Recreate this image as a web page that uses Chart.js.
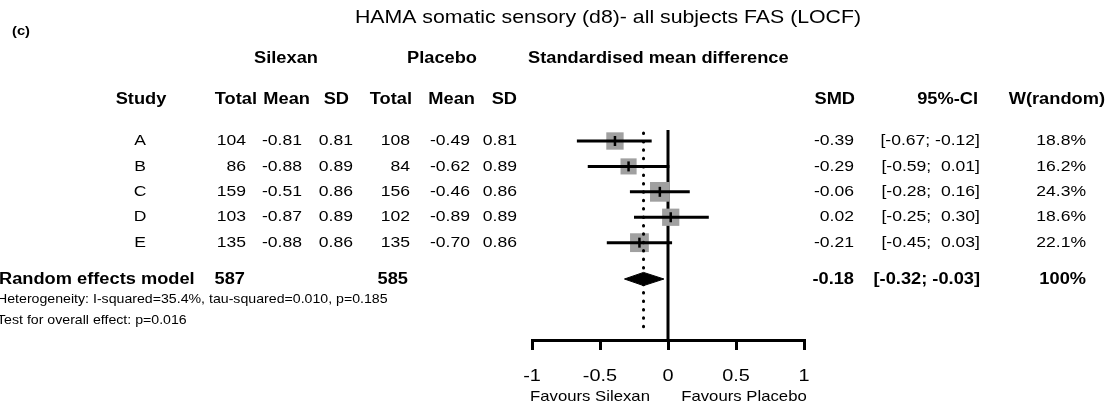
<!DOCTYPE html>
<html>
<head>
<meta charset="utf-8">
<script src="https://cdn.jsdelivr.net/npm/chart.js@4.4.1/dist/chart.umd.min.js"></script>
<style>
  html, body { margin: 0; padding: 0; background: #fff; }
  #wrap { width: 1110px; height: 408px; position: relative; }
</style>
</head>
<body>
<div id="wrap"><canvas id="forest"></canvas></div>
<script>
// data
const studies   = ['A', 'B', 'C', 'D', 'E'];
const silTotal  = [104, 86, 159, 103, 135];
const silMean   = [-0.81, -0.88, -0.51, -0.87, -0.88];
const silSD     = [0.81, 0.89, 0.86, 0.89, 0.86];
const plaTotal  = [108, 84, 156, 102, 135];
const plaMean   = [-0.49, -0.62, -0.46, -0.89, -0.70];
const plaSD     = [0.81, 0.89, 0.86, 0.89, 0.86];
const smd       = [-0.39, -0.29, -0.06, 0.02, -0.21];
const ciLow     = [-0.67, -0.59, -0.28, -0.25, -0.45];
const ciHigh    = [-0.12, 0.01, 0.16, 0.30, 0.03];
const weights   = [18.8, 16.2, 24.3, 18.6, 22.1];

const pooledTotals = [587, 585];
const pooledSmd  = -0.18;
const pooledLow  = -0.32;
const pooledHigh = -0.03;

const xTicks = [-1, -0.5, 0, 0.5, 1];

const heterogeneityText = 'Heterogeneity: I-squared=35.4%, tau-squared=0.010, p=0.185';
const overallText = 'Test for overall effect: p=0.016';

// row positions on the y scale
const SUMMARY_ROW = 6.43;
const Y_MIN = 0.567, Y_MAX = 8.83;
const SX = 1.17; // the figure's text is a bit wide, stretch it
const FONT = '"Liberation Sans", Arial, sans-serif';

function fmt(v) { return v.toFixed(2); }
function fmtCi(lo, hi) {
    const s = v => (v < 0 ? '' : ' ') + v.toFixed(2);
    return '[' + s(lo) + '; ' + s(hi) + ']';
}

function txt(ctx, s, x, y, align, size, bold) {
    ctx.save();
    ctx.font = (bold ? 'bold ' : '') + size + 'px ' + FONT;
    ctx.fillStyle = '#000';
    ctx.textAlign = align;
    ctx.textBaseline = 'middle';
    ctx.translate(x, y);
    ctx.scale(SX, 1);
    ctx.fillText(s, 0, 0);
    ctx.restore();
}

// the table columns around the plot
const tablePlugin = {
    id: 'tableText',
    afterDraw(chart) {
        const ctx = chart.ctx;
        const y = chart.scales.y;
        const x = chart.scales.x;

        txt(ctx, '(c)', 12, 32, 'left', 12.6, true);
        txt(ctx, 'HAMA somatic sensory (d8)- all subjects FAS (LOCF)', 608, 18, 'center', 18.2, false);

        // group headers
        txt(ctx, 'Silexan', 286, 59, 'center', 15.6, true);
        txt(ctx, 'Placebo', 442, 59, 'center', 15.6, true);
        txt(ctx, 'Standardised mean difference', 528, 59, 'left', 15.6, true);

        // column headers
        const hy = 100;
        txt(ctx, 'Study', 141, hy, 'center', 15.6, true);
        txt(ctx, 'Total', 257, hy, 'right', 15.6, true);
        txt(ctx, 'Mean', 310, hy, 'right', 15.6, true);
        txt(ctx, 'SD', 349, hy, 'right', 15.6, true);
        txt(ctx, 'Total', 412, hy, 'right', 15.6, true);
        txt(ctx, 'Mean', 475, hy, 'right', 15.6, true);
        txt(ctx, 'SD', 517, hy, 'right', 15.6, true);
        txt(ctx, 'SMD', 855, hy, 'right', 15.6, true);
        txt(ctx, '95%-CI', 978, hy, 'right', 15.6, true);
        txt(ctx, 'W(random)', 1105, hy, 'right', 15.6, true);

        // study rows
        studies.forEach((s, i) => {
            const py = y.getPixelForValue(i + 1);
            txt(ctx, s, 140, py, 'center', 15, false);
            txt(ctx, String(silTotal[i]), 246, py, 'right', 15, false);
            txt(ctx, fmt(silMean[i]), 302, py, 'right', 15, false);
            txt(ctx, fmt(silSD[i]), 353, py, 'right', 15, false);
            txt(ctx, String(plaTotal[i]), 410, py, 'right', 15, false);
            txt(ctx, fmt(plaMean[i]), 470, py, 'right', 15, false);
            txt(ctx, fmt(plaSD[i]), 517, py, 'right', 15, false);
            txt(ctx, fmt(smd[i]), 854, py, 'right', 15, false);
            txt(ctx, fmtCi(ciLow[i], ciHigh[i]), 980, py, 'right', 15, false);
            txt(ctx, weights[i].toFixed(1) + '%', 1086, py, 'right', 15, false);
        });

        // pooled row
        const sy = y.getPixelForValue(SUMMARY_ROW) + 1;
        txt(ctx, 'Random effects model', -1, sy, 'left', 15.6, true);
        txt(ctx, String(pooledTotals[0]), 245, sy, 'right', 15.6, true);
        txt(ctx, String(pooledTotals[1]), 408, sy, 'right', 15.6, true);
        txt(ctx, fmt(pooledSmd), 854, sy, 'right', 15.6, true);
        txt(ctx, fmtCi(pooledLow, pooledHigh), 980, sy, 'right', 15.6, true);
        txt(ctx, '100%', 1086, sy, 'right', 15.6, true);

        txt(ctx, heterogeneityText, -3, 300, 'left', 12.1, false);
        txt(ctx, overallText, -3, 321, 'left', 12.1, false);

        // tick labels under the axis
        x.ticks.forEach(t => {
            txt(ctx, String(t.value), x.getPixelForValue(t.value), 376, 'center', 17, false);
        });
        txt(ctx, 'Favours Silexan', 590, 397, 'center', 14.3, false);
        txt(ctx, 'Favours Placebo', 744, 397, 'center', 14.3, false);
    }
};

const datasets = [];

// gray squares, area by weight
datasets.push({
    data: studies.map((s, i) => ({ x: smd[i], y: i + 1 })),
    pointStyle: 'rect',
    pointRadius: weights.map(w => 4.0 * Math.sqrt(w) / Math.SQRT2),
    backgroundColor: '#a0a0a0',
    borderWidth: 0,
    order: 4
});

// confidence intervals
studies.forEach((s, i) => {
    datasets.push({
        data: [{ x: ciLow[i], y: i + 1 }, { x: ciHigh[i], y: i + 1 }],
        showLine: true,
        borderColor: '#000',
        borderWidth: 3,
        pointRadius: 0,
        order: 2
    });
});

// small vertical mark at each estimate
datasets.push({
    data: studies.map((s, i) => ({ x: smd[i], y: i + 1 })),
    pointStyle: 'line',
    rotation: 90,
    pointRadius: 5,
    borderColor: '#000',
    borderWidth: 2.5,
    order: 1
});

// pooled diamond
datasets.push({
    data: [
        { x: pooledLow, y: SUMMARY_ROW },
        { x: pooledSmd, y: SUMMARY_ROW - 0.26 },
        { x: pooledHigh, y: SUMMARY_ROW },
        { x: pooledSmd, y: SUMMARY_ROW + 0.26 },
        { x: pooledLow, y: SUMMARY_ROW }
    ],
    showLine: true,
    fill: 'shape',
    backgroundColor: '#000',
    borderColor: '#000',
    borderWidth: 1,
    pointRadius: 0,
    tension: 0,
    order: 3
});

// line of no effect
datasets.push({
    data: [{ x: 0, y: Y_MIN }, { x: 0, y: Y_MAX }],
    showLine: true,
    borderColor: '#000',
    borderWidth: 3,
    pointRadius: 0,
    order: 5
});

// dotted line at pooled estimate
datasets.push({
    data: [{ x: pooledSmd, y: 0.685 }, { x: pooledSmd, y: 8.52 }],
    showLine: true,
    borderColor: '#000',
    borderWidth: 3,
    borderDash: [0.5, 7.9],
    borderCapStyle: 'round',
    pointRadius: 0,
    order: 0
});

new Chart(document.getElementById('forest'), {
    type: 'scatter',
    data: { datasets: datasets },
    options: {
        responsive: true,
        maintainAspectRatio: false,
        animation: false,
        events: [],
        layout: { padding: { left: 532, right: 306, top: 130, bottom: 0 } },
        plugins: {
            legend: { display: false },
            tooltip: { enabled: false }
        },
        scales: {
            x: {
                type: 'linear',
                min: xTicks[0],
                max: xTicks[xTicks.length - 1],
                afterBuildTicks: (scale) => { scale.ticks = xTicks.map(v => ({ value: v })); },
                afterFit: (scale) => { scale.height = 68; },
                ticks: { display: false },
                grid: {
                    drawOnChartArea: false,
                    drawTicks: true,
                    tickLength: 10,
                    color: '#000',
                    lineWidth: 3
                },
                border: { display: true, color: '#000', width: 3 }
            },
            y: {
                type: 'linear',
                display: false,
                reverse: true,
                min: Y_MIN,
                max: Y_MAX
            }
        }
    },
    plugins: [tablePlugin]
});
</script>
</body>
</html>
